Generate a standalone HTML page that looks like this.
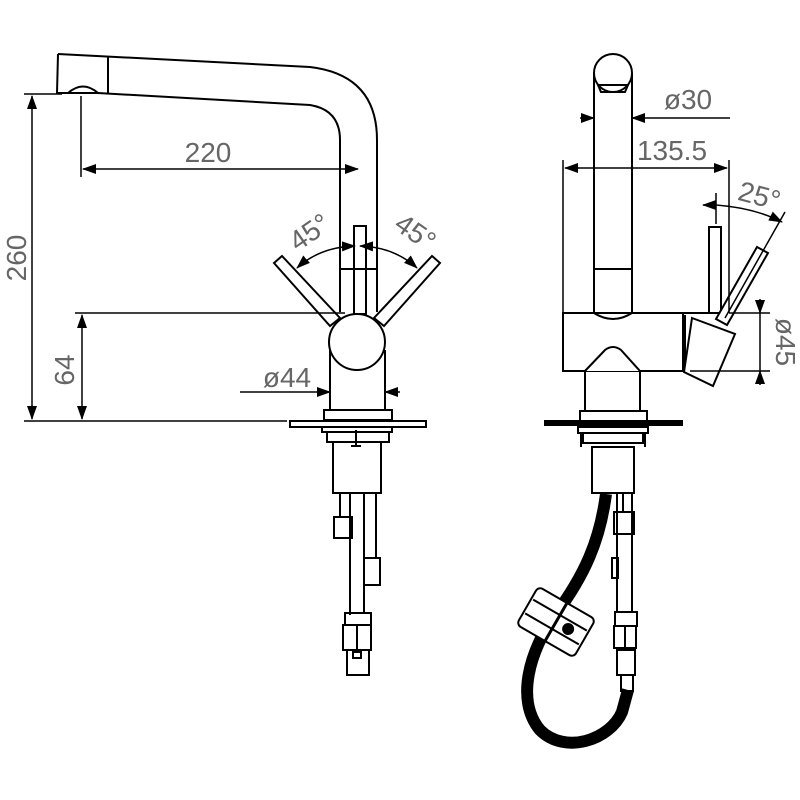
<!DOCTYPE html>
<html><head><style>body{margin:0;background:#fff}svg{display:block}</style></head><body>
<svg width="800" height="800" viewBox="0 0 800 800" xmlns="http://www.w3.org/2000/svg">
<defs>
<marker id="a" markerWidth="14" markerHeight="10" refX="13" refY="5" orient="auto" markerUnits="userSpaceOnUse"><path d="M0,0L14,5L0,10Z" fill="#000"/></marker>
<marker id="b" markerWidth="14" markerHeight="10" refX="1" refY="5" orient="auto" markerUnits="userSpaceOnUse"><path d="M14,0L0,5L14,10Z" fill="#000"/></marker>
</defs>
<g fill="none" stroke="#000" stroke-width="2">
<!-- LEFT VIEW -->
<path d="M58,54 L310,67 Q377,75 377,140 L377,312"/>
<path d="M58,54 L57,93 L68,93"/>
<path d="M98,93 L310,105 Q340,110 340,140 L340,312"/>
<line x1="108" y1="56" x2="108" y2="93"/>
<path d="M68,93 Q83,80 98,93 Z"/>
<rect x="354" y="226" width="12" height="88"/>
<line x1="340" y1="269" x2="377" y2="269"/>
<path d="M274,263 L282,256 L340,318 L330,326 Z" fill="#fff"/>
<path d="M440,263 L432,256 L374,318 L384,326 Z" fill="#fff"/>
<circle cx="357" cy="342" r="28" fill="#fff"/>
<path d="M330,350 L330,410 M385,350 L385,410"/>
<rect x="324" y="410" width="68" height="10"/>
<rect x="290" y="421" width="136" height="6"/>
<rect x="322" y="427" width="70" height="5"/>
<rect x="327" y="432" width="62" height="10"/>
<rect x="333" y="442" width="48" height="51"/>
<path d="M356,430 L356,446 M351,446 L361,446"/>
<path d="M340,493 L340,517 M350,493 L350,615 M364,493 L364,558 M376,493 L376,558 M364,585 L364,613"/>
<rect x="334" y="517" width="18" height="21"/>
<rect x="364" y="558" width="16" height="27"/>
<rect x="345" y="613" width="26" height="12"/>
<rect x="343" y="625" width="28" height="25"/>
<line x1="357" y1="625" x2="357" y2="650"/>
<rect x="347" y="650" width="22" height="25"/>
<rect x="353" y="652" width="8" height="6"/>
<!-- dims left -->
<g stroke-width="1.5">
<line x1="24" y1="94" x2="62" y2="94"/>
<line x1="24" y1="421" x2="287" y2="421"/>
<line x1="32" y1="96" x2="32" y2="419" marker-start="url(#b)" marker-end="url(#a)"/>
<line x1="75" y1="313" x2="345" y2="313"/>
<line x1="82" y1="315" x2="82" y2="419" marker-start="url(#b)" marker-end="url(#a)"/>
<line x1="81" y1="96" x2="81" y2="177"/>
<line x1="83" y1="169" x2="358" y2="169" marker-start="url(#b)" marker-end="url(#a)"/>
<line x1="240" y1="392" x2="330" y2="392" marker-end="url(#a)"/>
<line x1="400" y1="392" x2="385" y2="392" marker-end="url(#a)"/>
<path d="M297,268 Q320,247 355,246" marker-start="url(#b)" marker-end="url(#a)"/>
<path d="M417,268 Q394,247 360,246" marker-start="url(#b)" marker-end="url(#a)"/>
</g>
<!-- RIGHT VIEW -->
<circle cx="613" cy="73" r="19" fill="#fff"/>
<path d="M594,73 L594,313 Q613,325 632,313 L632,73"/>
<path d="M598,85 L628,85 L625,92 L601,92 Z"/>
<line x1="594" y1="269" x2="632" y2="269"/>
<rect x="563" y="313" width="120" height="58"/>
<path d="M683,313 L729,313 M683,371 L690,371"/>
<line x1="685" y1="315" x2="685" y2="369"/>
<path d="M585,371 L605,350 Q613,344 621,350 L640,371" fill="#fff"/>
<path d="M585,371 L585,411 M640,371 L640,411"/>
<rect x="580" y="411" width="67" height="10"/>
<rect x="545" y="421" width="137" height="4" fill="#000"/>
<rect x="578" y="427" width="70" height="6"/>
<rect x="583" y="433" width="60" height="10"/>
<path d="M581,433 L581,447 M645,433 L645,447"/>
<rect x="592" y="447" width="42" height="46"/>
<rect x="709" y="227" width="12" height="86" fill="#fff"/>
<path d="M757,247 L768,253 L727,325 L716,319 Z" fill="#fff"/>
<path d="M692,318 L735,334 L713,386 L684,372 Z" fill="#fff"/>
<!-- hose -->
<path d="M606,494 C600,540 585,575 555,615 C530,650 515,700 540,730 C565,755 610,740 622,712 L628,690" stroke-width="12"/>
<g transform="translate(556,622) rotate(30)"><rect x="-33" y="-22" width="66" height="44" rx="5" fill="#fff"/><line x1="-31" y1="-8" x2="31" y2="-8"/><line x1="-31" y1="8" x2="31" y2="8"/><line x1="0" y1="-22" x2="0" y2="22" stroke-width="3"/><circle cx="14" cy="0" r="5" fill="#000"/></g>
<path d="M617,493 L617,612 M632,493 L632,612 M623,493 L623,512"/>
<rect x="614" y="512" width="20" height="22"/>
<rect x="612" y="558" width="6" height="20"/>
<rect x="615" y="612" width="22" height="14"/>
<rect x="614" y="626" width="22" height="22"/>
<line x1="625" y1="626" x2="625" y2="648"/>
<rect x="617" y="650" width="18" height="25"/>
<rect x="621" y="675" width="12" height="16"/>
<g stroke-width="1.5">
<line x1="580" y1="118" x2="594" y2="118" marker-end="url(#a)"/>
<line x1="730" y1="118" x2="632" y2="118" marker-end="url(#a)"/>
<line x1="563" y1="160" x2="563" y2="313"/>
<line x1="729" y1="160" x2="729" y2="313"/>
<line x1="565" y1="168" x2="727" y2="168" marker-start="url(#b)" marker-end="url(#a)"/>
<line x1="716" y1="193" x2="716" y2="224"/>
<path d="M716,205 Q755,208 782,222" marker-end="url(#a)"/>
<line x1="703" y1="205" x2="716" y2="205" marker-start="url(#b)"/>
<line x1="785" y1="212" x2="725" y2="318"/>
<line x1="690" y1="371" x2="770" y2="371"/>
<line x1="729" y1="313" x2="770" y2="313"/>
<line x1="760" y1="299" x2="760" y2="313" marker-end="url(#a)"/>
<line x1="760" y1="385" x2="760" y2="371" marker-end="url(#a)"/>
<line x1="760" y1="313" x2="760" y2="371"/>
</g>
</g>
<g font-family="Liberation Sans, sans-serif" fill="#666" font-size="28">
<text x="208" y="162" text-anchor="middle">220</text>
<text transform="translate(26,258) rotate(-90)" text-anchor="middle">260</text>
<text transform="translate(74,370) rotate(-90)" text-anchor="middle">64</text>
<text x="287" y="387" text-anchor="middle">ø44</text>
<text transform="translate(315,240) rotate(-35)" text-anchor="middle">45°</text>
<text transform="translate(410,240) rotate(35)" text-anchor="middle">45°</text>
<text x="688" y="109" text-anchor="middle">ø30</text>
<text x="672" y="160" text-anchor="middle">135.5</text>
<text transform="translate(757,205) rotate(15)" text-anchor="middle">25°</text>
<text transform="translate(776,342) rotate(90)" text-anchor="middle">ø45</text>
</g>
</svg>
</body></html>
